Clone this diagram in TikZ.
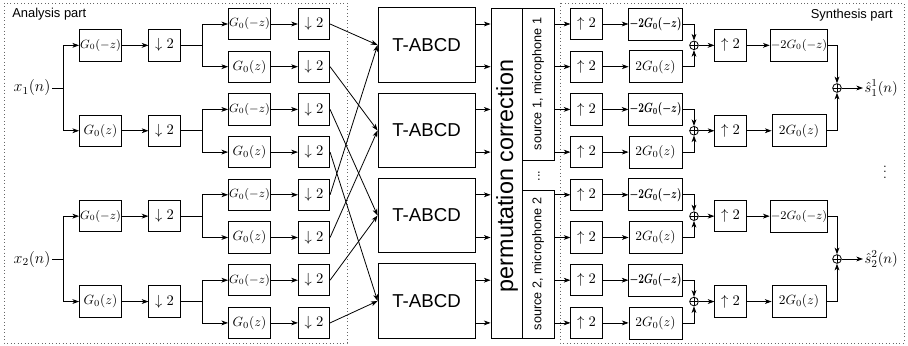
\documentclass[tikz,border=0pt]{standalone}
\usepackage{amsmath}
\usepackage{fontspec}
\setsansfont{Liberation Sans}
\usetikzlibrary{arrows.meta,calc}
\begin{document}
\begin{tikzpicture}[x=0.75pt,y=-0.75pt,
  ln/.style={line width=0.6pt},
  blk/.style={draw, ln, minimum height=23.5pt, inner sep=0.5pt},
  dn/.style={blk, minimum width=23.5pt, font=\fontsize{11}{13}\selectfont},
  gb/.style={blk, minimum width=31.5pt},
  sbox/.style={blk, minimum width=39.75pt, minimum height=24pt},
  tab/.style={draw, ln, minimum width=72.75pt, minimum height=56pt, font=\fontsize{14}{16}\sffamily},
  sumc/.style={draw, circle, ln, minimum size=6.5pt, inner sep=0pt,
    path picture={\draw[line width=0.5pt] (path picture bounding box.north) -- (path picture bounding box.south) (path picture bounding box.west) -- (path picture bounding box.east);}},
  arr/.style={ln, -{Stealth[length=5pt,width=3.6pt,inset=1.4pt]}},
  dotframe/.style={dotted, line width=0.6pt, black!60}
]
\useasboundingbox (0,0) rectangle (908,346);
% frames
\draw[dotframe] (4,3) rectangle (347,343);
\draw[dotframe] (560,3) rectangle (904,343);
\node[anchor=west, inner sep=0, font=\fontsize{9.7}{11}\sffamily] (lana) at (12,14) {Analysis part};
\node[anchor=east, inner sep=0, font=\fontsize{9.7}{11}\sffamily] (lsyn) at (893,15) {Synthesis part};

% ---------- analysis ----------
\node[anchor=east, inner sep=1pt, font=\fontsize{12}{14}\selectfont] (x1) at (52,88) {$x_1(n)$};
\node[anchor=east, inner sep=1pt, font=\fontsize{12}{14}\selectfont] (x2) at (52,259) {$x_2(n)$};
\coordinate (bx1) at (63,88);
\coordinate (bx2) at (63,259);

\foreach \j/\y in {1/45.35,3/216.15} {\node[gb,font=\small] (g\j) at (100.5,\y) {$G_0(-z)$};}
\foreach \j/\y in {2/130.75,4/301.55} {\node[gb] (g\j) at (100.5,\y) {$G_0(z)$};}
\foreach \j/\y in {1/45.35,2/130.75,3/216.15,4/301.55} {
  \node[dn] (e\j) at (164.5,\y) {$\downarrow 2$};
  \draw[arr] (g\j) -- (e\j);
}
\draw[ln] (x1.east) -- (bx1);
\draw[arr] (bx1) |- (g1.west);
\draw[arr] (bx1) |- (g2.west);
\draw[ln] (x2.east) -- (bx2);
\draw[arr] (bx2) |- (g3.west);
\draw[arr] (bx2) |- (g4.west);

\foreach \i/\y in {1/24,3/109.4,5/194.8,7/280.2} {\node[gb,font=\small] (a\i) at (249.5,\y) {$G_0(-z)$};}
\foreach \i/\y in {2/66.7,4/152.1,6/237.5,8/322.9} {\node[gb] (a\i) at (249.5,\y) {$G_0(z)$};}
\foreach \i/\y in {1/24,2/66.7,3/109.4,4/152.1,5/194.8,6/237.5,7/280.2,8/322.9} {
  \node[dn] (d\i) at (314,\y) {$\downarrow 2$};
  \draw[arr] (a\i) -- (d\i);
}
\foreach \j/\y/\u/\v in {1/45.35/1/2,2/130.75/3/4,3/216.15/5/6,4/301.55/7/8} {
  \coordinate (b\j) at (202,\y);
  \draw[ln] (e\j.east) -- (b\j);
  \draw[arr] (b\j) |- (a\u.west);
  \draw[arr] (b\j) |- (a\v.west);
}

% ---------- T-ABCD ----------
\foreach \k/\y in {1/45,2/130.5,3/215.5,4/301} {\node[tab] (t\k) at (426.5,\y) {T-ABCD};}
\foreach \i/\k in {1/1,2/2,3/3,4/4,5/1,6/2,7/3,8/4} {\draw[arr] (d\i.east) -- (t\k.west);}

% ---------- permutation ----------
\node[draw, ln, minimum width=23.25pt, minimum height=247.5pt, inner sep=0] (perm) at (506.5,173) {};
\node[rotate=90, inner sep=0, font=\fontsize{17.5}{20}\sffamily] (permtxt) at (507,176) {permutation correction};
\node[draw, ln, minimum width=24pt, minimum height=114pt, inner sep=0] (src1) at (538,84) {};
\node[rotate=90, inner sep=0, font=\fontsize{9.5}{11}\sffamily] (src1txt) at (src1.center) {source 1, microphone 1};
\node[draw, ln, minimum width=24pt, minimum height=111pt, inner sep=0] (src2) at (538,264) {};
\node[rotate=90, inner sep=0, font=\fontsize{9.5}{11}\sffamily] (src2txt) at (src2.center) {source 2, microphone 2};
\node[rotate=90, inner sep=0, font=\fontsize{9.5}{11}\sffamily] (sdots) at (539,176) {...};

\foreach \i/\k in {1/1,2/1,3/2,4/2,5/3,6/3,7/4,8/4} {\draw[arr] (t\k.east |- d\i) -- (perm.west |- d\i);}

% ---------- synthesis ----------
\foreach \i/\y in {1/24,2/66.7,3/109.4,4/152.1,5/194.8,6/237.5,7/280.2,8/322.9} {
  \node[dn] (u\i) at (586.5,\y) {$\uparrow 2$};
}
\foreach \i in {1,2,3,4} {\draw[arr] (src1.east |- u\i) -- (u\i.west);}
\foreach \i in {5,6,7,8} {\draw[arr] (src2.east |- u\i) -- (u\i.west);}
\foreach \i/\y in {1/24,3/109.4,5/194.8,7/280.2} {\node[sbox] (s\i) at (655.5,\y) {\resizebox{39pt}{\height}{$\boldsymbol{-2G_0(-z)}$}};}
\foreach \i/\y in {2/66.7,4/152.1,6/237.5,8/322.9} {\node[sbox] (s\i) at (655.5,\y) {$2G_0(z)$};}
\foreach \i in {1,...,8} {\draw[arr] (u\i) -- (s\i);}

\foreach \j/\y/\u/\v in {1/45.35/1/2,2/130.75/3/4,3/216.15/5/6,4/301.55/7/8} {
  \node[sumc] (c\j) at (694,\y) {};
  \draw[arr] (s\u.east) -| (c\j.north);
  \draw[arr] (s\v.east) -| (c\j.south);
  \node[dn] (v\j) at (730.5,\y) {$\uparrow 2$};
  \draw[arr] (c\j) -- (v\j);
}
\foreach \j/\y in {1/45.35,3/216.15} {\node[sbox, minimum width=40.5pt, font=\small] (w\j) at (799,\y) {$-2G_0(-z)$};}
\foreach \j/\y in {2/130.75,4/301.55} {\node[sbox, minimum width=40.5pt] (w\j) at (799,\y) {$2G_0(z)$};}
\foreach \j in {1,...,4} {\draw[arr] (v\j) -- (w\j);}

\node[sumc] (f1) at (837,88) {};
\node[sumc] (f2) at (837,259) {};
\draw[arr] (w1.east) -| (f1.north);
\draw[arr] (w2.east) -| (f1.south);
\draw[arr] (w3.east) -| (f2.north);
\draw[arr] (w4.east) -| (f2.south);
\node[anchor=west, inner sep=1pt, font=\fontsize{11}{13}\selectfont] (o1) at (863,88) {$\hat{s}_1^1(n)$};
\node[anchor=west, inner sep=1pt, font=\fontsize{11}{13}\selectfont] (o2) at (863,259) {$\hat{s}_2^2(n)$};
\draw[arr] (f1.east) -- (o1.west);
\draw[arr] (f2.east) -- (o2.west);
\node (vd) at (885,168) {$\vdots$};
\end{tikzpicture}
\end{document}
